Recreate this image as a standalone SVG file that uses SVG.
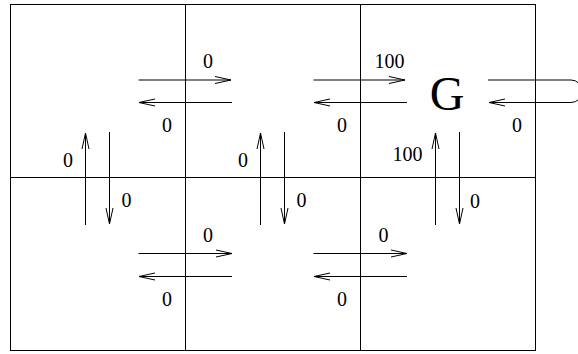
<svg xmlns="http://www.w3.org/2000/svg" width="578" height="354" viewBox="0 0 578 354">
<style>
.g{stroke:#000;stroke-width:1;fill:none}
.a{stroke:#000;stroke-width:1;fill:none;marker-end:url(#ah)}
text{font-family:"Liberation Serif","Times New Roman",serif;font-size:20px;fill:#000;text-anchor:middle}
.big{font-size:48px}
</style>
<defs>
<marker id="ah" markerUnits="userSpaceOnUse" markerWidth="20" markerHeight="10" refX="17" refY="5" orient="auto" viewBox="0 0 20 10">
<path d="M1,1.5 L17,5 L1,8.5" fill="none" stroke="#000" stroke-width="1"/>
</marker>
</defs>
<g id="grid">
<rect class="g" x="10.5" y="4.5" width="525" height="346"/>
<line class="g" x1="185.5" y1="4" x2="185.5" y2="351"/>
<line class="g" x1="360.5" y1="4" x2="360.5" y2="351"/>
<line class="g" x1="10" y1="177.5" x2="536" y2="177.5"/>
</g>
<g id="connectors">
<line class="a" x1="138.5" y1="80" x2="231" y2="80"/>
<line class="a" x1="232" y1="102.5" x2="139" y2="102.5"/>
<line class="a" x1="313.5" y1="80" x2="405" y2="80"/>
<line class="a" x1="407" y1="102.5" x2="314" y2="102.5"/>
<path class="a" d="M488,80 H571 A11.25,11.25 0 0 1 571,102.5 H489"/>
<line class="a" x1="138.5" y1="253.5" x2="232" y2="253.5"/>
<line class="a" x1="232" y1="276.5" x2="139" y2="276.5"/>
<line class="a" x1="313.5" y1="253.5" x2="407" y2="253.5"/>
<line class="a" x1="407" y1="276.5" x2="314" y2="276.5"/>
<line class="a" x1="85.5" y1="225" x2="85.5" y2="133"/>
<line class="a" x1="109.5" y1="132" x2="109.5" y2="224"/>
<line class="a" x1="260.5" y1="225" x2="260.5" y2="133"/>
<line class="a" x1="284.5" y1="132" x2="284.5" y2="224"/>
<line class="a" x1="435.5" y1="225" x2="435.5" y2="133"/>
<line class="a" x1="459.5" y1="132" x2="459.5" y2="224"/>
</g>
<g id="labels">
<text x="208" y="68">0</text>
<text x="167" y="131.5">0</text>
<text x="389.5" y="68">100</text>
<text x="342" y="131.5">0</text>
<text x="517" y="131.5">0</text>
<text x="68" y="166.5">0</text>
<text x="126.5" y="206.5">0</text>
<text x="243" y="166.5">0</text>
<text x="301.5" y="206.5">0</text>
<text x="407.5" y="160.5">100</text>
<text x="475" y="207.5">0</text>
<text x="208" y="242">0</text>
<text x="167" y="306">0</text>
<text x="383.5" y="242">0</text>
<text x="342" y="306">0</text>
</g>
<g id="G">
<text class="big" x="447" y="109.5">G</text>
</g>
</svg>
